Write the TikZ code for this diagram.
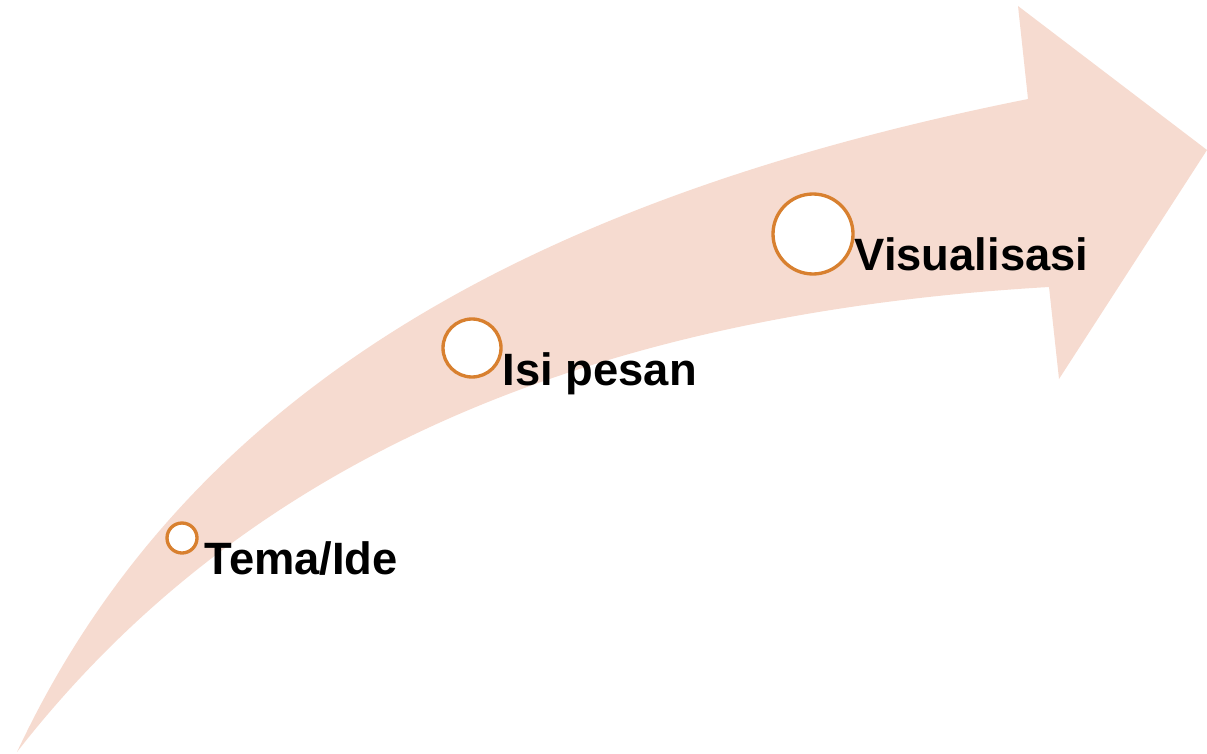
\documentclass[tikz,border=0pt]{standalone}
\usepackage{fontspec}
\setmainfont{Liberation Sans}
\definecolor{arrowpink}{HTML}{F6DBD0}
\definecolor{ringorange}{HTML}{D8802F}

\tikzstyle{dot} = [circle, draw=ringorange, line width=0.95pt, fill=white, inner sep=0pt]
\tikzstyle{txt} = [anchor=base west, inner sep=0pt, font=\bfseries\fontsize{12.9}{15}\selectfont]

\begin{document}
\begin{tikzpicture}[scale=1.0]
\useasboundingbox (0,0) rectangle (12.07,7.53);

% Big curved arrow
\fill[arrowpink] (0.17,0.01) .. controls (1.85,3.6) and (5.28,5.54) .. (10.28,6.54)
  -- (10.18,7.47) -- (12.07,6.03) -- (10.59,3.74) -- (10.49,4.66)
  .. controls (6.0,4.4) and (2.5,3.0) .. (0.17,0.01) -- cycle;

%TEMA
\node[dot, minimum size=0.30cm] (tema) at (1.82,2.15) {};
\node[txt] (temalbl) at (2.04,1.79) {Tema/Ide};

%ISI
\node[dot, minimum size=0.58cm] (isi) at (4.72,4.05) {};
\node[txt] (isilbl) at (5.02,3.68) {Isi pesan};

%VISUAL
\node[dot, minimum size=0.80cm] (visual) at (8.13,5.19) {};
\node[txt] (visuallbl) at (8.54,4.82) {Visualisasi};

\end{tikzpicture}
\end{document}
